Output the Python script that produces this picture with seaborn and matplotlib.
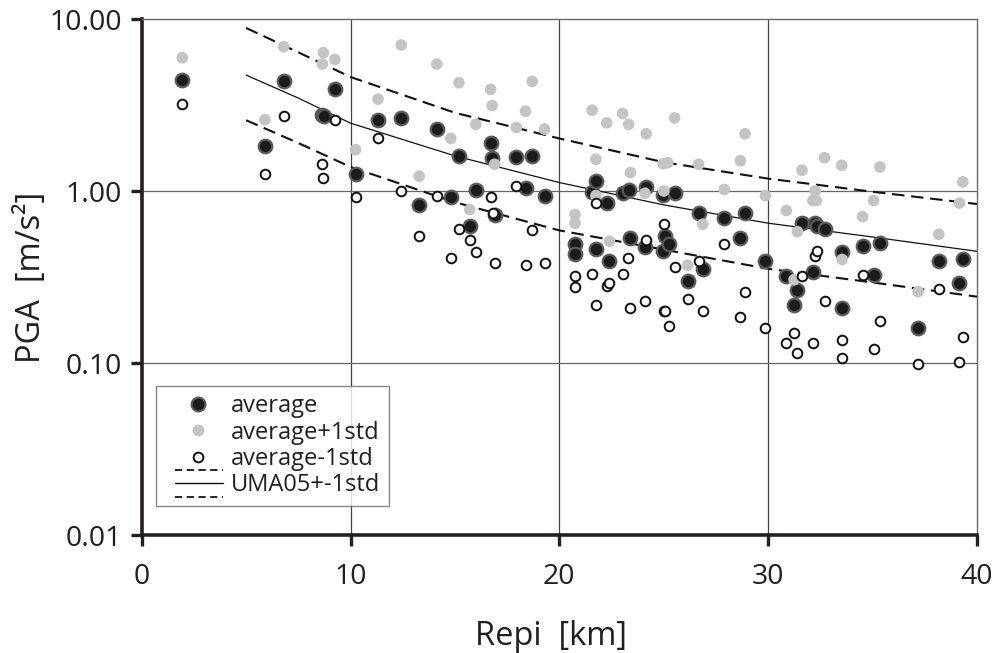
import matplotlib
matplotlib.use("Agg")
import matplotlib.pyplot as plt
import seaborn as sns
from matplotlib.lines import Line2D
from matplotlib.legend_handler import HandlerBase

# ---------------- data ----------------
avg_x = [1.94, 5.9, 6.8, 8.65, 8.75, 9.25, 10.24, 11.32, 12.43, 13.29, 14.13, 14.8,
         15.19, 15.71, 16.0, 16.71, 16.78, 16.9, 17.94, 18.38, 18.7, 19.29, 20.75,
         20.75, 21.54, 21.75, 21.75, 22.27, 22.4, 23.03, 23.33, 23.4, 24.1, 24.16,
         24.97, 24.97, 25.06, 25.24, 25.52, 26.14, 26.67, 26.87, 27.89, 28.65, 28.89,
         29.87, 30.87, 31.24, 31.4, 31.63, 32.16, 32.25, 32.33, 32.7, 33.54, 33.54,
         34.52, 35.05, 35.37, 37.18, 38.17, 39.16, 39.32]
avg_y = [4.41, 1.82, 4.35, 2.76, 2.72, 3.9, 1.26, 2.6, 2.66, 0.83, 2.3, 0.92,
         1.6, 0.63, 1.02, 1.9, 1.55, 0.73, 1.58, 1.04, 1.6, 0.94, 0.49,
         0.43, 0.99, 1.14, 0.46, 0.85, 0.39, 0.97, 1.02, 0.53, 0.47, 1.05,
         0.95, 0.45, 0.55, 0.49, 0.98, 0.30, 0.74, 0.35, 0.70, 0.53, 0.74,
         0.39, 0.32, 0.216, 0.264, 0.65, 0.34, 0.65, 0.63, 0.60, 0.44, 0.21,
         0.48, 0.325, 0.50, 0.16, 0.39, 0.29, 0.40]

plus_x = [1.94, 5.9, 6.8, 8.65, 8.7, 9.25, 10.24, 11.32, 12.43, 13.29, 14.13, 14.8,
          15.19, 15.71, 16.0, 16.71, 16.78, 16.9, 17.94, 18.38, 18.7, 19.29, 20.75,
          20.75, 21.57, 21.75, 21.75, 22.27, 22.4, 23.03, 23.32, 23.4, 24.1, 24.16,
          24.97, 25.0, 25.19, 25.52, 26.14, 26.67, 26.87, 27.9, 28.67, 28.89, 29.87,
          30.87, 31.24, 31.4, 31.62, 32.14, 32.25, 32.3, 32.7, 33.52, 33.54, 34.52,
          35.05, 35.35, 37.18, 38.17, 39.16, 39.32]
plus_y = [5.95, 2.6, 6.9, 5.47, 6.37, 5.82, 1.74, 3.42, 7.06, 1.22, 5.47, 2.02,
          4.26, 0.78, 2.44, 3.9, 3.14, 1.43, 2.34, 2.91, 4.34, 2.29, 0.73,
          0.65, 2.95, 1.53, 0.94, 2.49, 0.51, 2.82, 2.44, 1.28, 0.97, 2.15,
          1.44, 1.0, 1.46, 2.66, 0.37, 1.43, 0.64, 1.02, 1.5, 2.15, 0.94,
          0.77, 0.305, 0.58, 1.32, 0.88, 1.0, 0.88, 1.56, 1.41, 0.40, 0.71,
          0.88, 1.38, 0.26, 0.56, 0.85, 1.13]

minus_x = [1.94, 5.9, 6.8, 8.65, 8.7, 9.24, 10.24, 11.32, 12.43, 13.27, 14.13, 14.8,
           15.19, 15.71, 16.0, 16.71, 16.8, 16.92, 17.94, 18.38, 18.68, 19.29, 20.75,
           20.75, 21.57, 21.75, 21.75, 22.27, 22.4, 23.03, 23.3, 23.4, 24.08, 24.16,
           25.0, 25.0, 25.08, 25.24, 25.52, 26.14, 26.67, 26.89, 27.89, 28.65, 28.89,
           29.87, 30.87, 31.24, 31.4, 31.63, 32.16, 32.22, 32.33, 32.7, 33.54, 33.54,
           34.52, 35.05, 35.37, 37.18, 38.17, 39.16, 39.32]
minus_y = [3.2, 1.26, 2.72, 1.43, 1.19, 2.6, 0.92, 2.02, 1.0, 0.55, 0.94, 0.41,
           0.60, 0.52, 0.44, 0.92, 0.74, 0.38, 1.07, 0.37, 0.59, 0.38, 0.32,
           0.275, 0.33, 0.85, 0.217, 0.28, 0.29, 0.33, 0.41, 0.21, 0.23, 0.52,
           0.64, 0.20, 0.20, 0.164, 0.36, 0.236, 0.39, 0.20, 0.49, 0.184, 0.257,
           0.16, 0.13, 0.15, 0.115, 0.32, 0.13, 0.42, 0.45, 0.23, 0.136, 0.107,
           0.325, 0.12, 0.175, 0.099, 0.27, 0.101, 0.142]

curve_x = [5, 7.5, 10, 15, 20, 25, 30, 35, 40]
uma_mean = [4.72, 3.47, 2.48, 1.6, 1.12, 0.83, 0.65, 0.54, 0.446]
uma_upper = [8.87, 6.4, 4.6, 2.85, 2.02, 1.47, 1.18, 0.99, 0.84]
uma_lower = [2.58, 1.9, 1.38, 0.86, 0.59, 0.456, 0.353, 0.294, 0.243]

x_ticks = [0, 10, 20, 30, 40]
y_ticks = [0.01, 0.1, 1, 10]
y_tick_labels = ["0.01", "0.10", "1.00", "10.00"]
legend_labels = ["average", "average+1std", "average-1std", "UMA05+-1std"]

# ---------------- style ----------------
sns.set_style("white")
plt.rcParams["font.family"] = ["Open Sans", "DejaVu Sans"]
TXT = "#231f20"

fig = plt.figure(figsize=(10, 6.53), dpi=100)
ax = fig.add_axes([0.1417, 1 - 535 / 653, (977 - 141.7) / 1000, (535 - 19) / 653])

ax.set_yscale("log")
ax.set_xlim(0, 40)
ax.set_ylim(0.01, 10)

# grid
for gx in x_ticks[1:-1]:
    ax.axvline(gx, color="#444444", lw=0.9, zorder=0.5)
for gy in y_ticks[1:-1]:
    ax.axhline(gy, color="#666666", lw=0.9, zorder=0.5)

# curves
dash = (0, (6, 3.2))
sns.lineplot(x=curve_x, y=uma_upper, ax=ax, color="#111111", lw=1.5,
             linestyle=dash, zorder=2)
sns.lineplot(x=curve_x, y=uma_mean, ax=ax, color="#111111", lw=0.9, zorder=2)
sns.lineplot(x=curve_x, y=uma_lower, ax=ax, color="#111111", lw=1.5,
             linestyle=dash, zorder=2)

# scatter
sns.scatterplot(x=avg_x, y=avg_y, ax=ax, s=95, color="#1c1a1b",
                edgecolor="#5a5a5a", linewidth=1.6, zorder=3)
sns.scatterplot(x=plus_x, y=plus_y, ax=ax, s=70, color="#c4c4c4",
                edgecolor="none", linewidth=0, zorder=3.5)
sns.scatterplot(x=minus_x, y=minus_y, ax=ax, s=48, color="white",
                edgecolor="#111111", linewidth=1.4, zorder=4)

# axes appearance
for side in ["left", "bottom"]:
    ax.spines[side].set_linewidth(2.6)
    ax.spines[side].set_color(TXT)
for side in ["top", "right"]:
    ax.spines[side].set_linewidth(1.0)
    ax.spines[side].set_color("#6a6a6a")
    ax.spines[side].set_visible(True)

ax.set_xticks(x_ticks)
ax.set_yticks(y_ticks)
ax.set_yticklabels(y_tick_labels)
ax.minorticks_off()
ax.tick_params(axis="both", direction="out", length=8, width=2.4,
               color=TXT, labelsize=20.5, labelcolor=TXT,
               left=True, bottom=True, top=False, right=False)
ax.tick_params(axis="x", pad=12)
ax.tick_params(axis="y", pad=6)

ax.set_xlabel("Repi  [km]", fontsize=23.5, color=TXT)
ax.set_ylabel("PGA  [m/s²]", fontsize=23.5, color=TXT)
ax.xaxis.set_label_coords(0.49, -0.164)
ax.yaxis.set_label_coords(-0.112, 0.5)


# legend handlers
class ThreeLines(HandlerBase):
    def create_artists(self, legend, orig_handle, xdescent, ydescent,
                       width, height, fontsize, trans):
        yc = height / 2 - ydescent
        off = 0.57 * fontsize
        x0 = -xdescent + 0.19 * width
        x1 = -xdescent + width
        arts = []
        for dy, ls, lw in [(off, (0, (4, 2.5)), 1.3), (0, "-", 1.0),
                           (-off, (0, (4, 2.5)), 1.3)]:
            ln = Line2D([x0, x1], [yc + dy, yc + dy],
                        linestyle=ls, color="#111111", lw=lw)
            ln.set_transform(trans)
            arts.append(ln)
        return arts


class OffsetMarker(HandlerBase):
    def create_artists(self, legend, orig_handle, xdescent, ydescent,
                       width, height, fontsize, trans):
        ln = Line2D([-xdescent + 0.58 * width], [height / 2 - ydescent],
                    ls="none", marker="o",
                    ms=orig_handle.get_markersize(),
                    mfc=orig_handle.get_markerfacecolor(),
                    mec=orig_handle.get_markeredgecolor(),
                    mew=orig_handle.get_markeredgewidth())
        ln.set_transform(trans)
        return [ln]


h_avg = Line2D([], [], marker="o", ls="none", ms=10, mfc="#1c1a1b",
               mec="#5a5a5a", mew=1.5)
h_plus = Line2D([], [], marker="o", ls="none", ms=8.5, mfc="#c4c4c4", mec="none")
h_minus = Line2D([], [], marker="o", ls="none", ms=7, mfc="white",
                 mec="#111111", mew=1.4)
h_uma = Line2D([], [], color="k")

leg = ax.legend([h_avg, h_plus, h_minus, h_uma], legend_labels,
                handler_map={h_uma: ThreeLines(), h_avg: OffsetMarker(),
                             h_plus: OffsetMarker(), h_minus: OffsetMarker()},
                loc="upper left", bbox_to_anchor=(0.0171, 0.2888),
                borderaxespad=0, fontsize=17, frameon=True, fancybox=False,
                handlelength=2.5, handletextpad=0.33, labelspacing=0.1,
                borderpad=0.35, labelcolor=TXT)
leg.get_frame().set_edgecolor("#6a6a6a")
leg.get_frame().set_linewidth(1.0)
leg.set_zorder(5)

fig.savefig("out.png", dpi=100, facecolor="white")
